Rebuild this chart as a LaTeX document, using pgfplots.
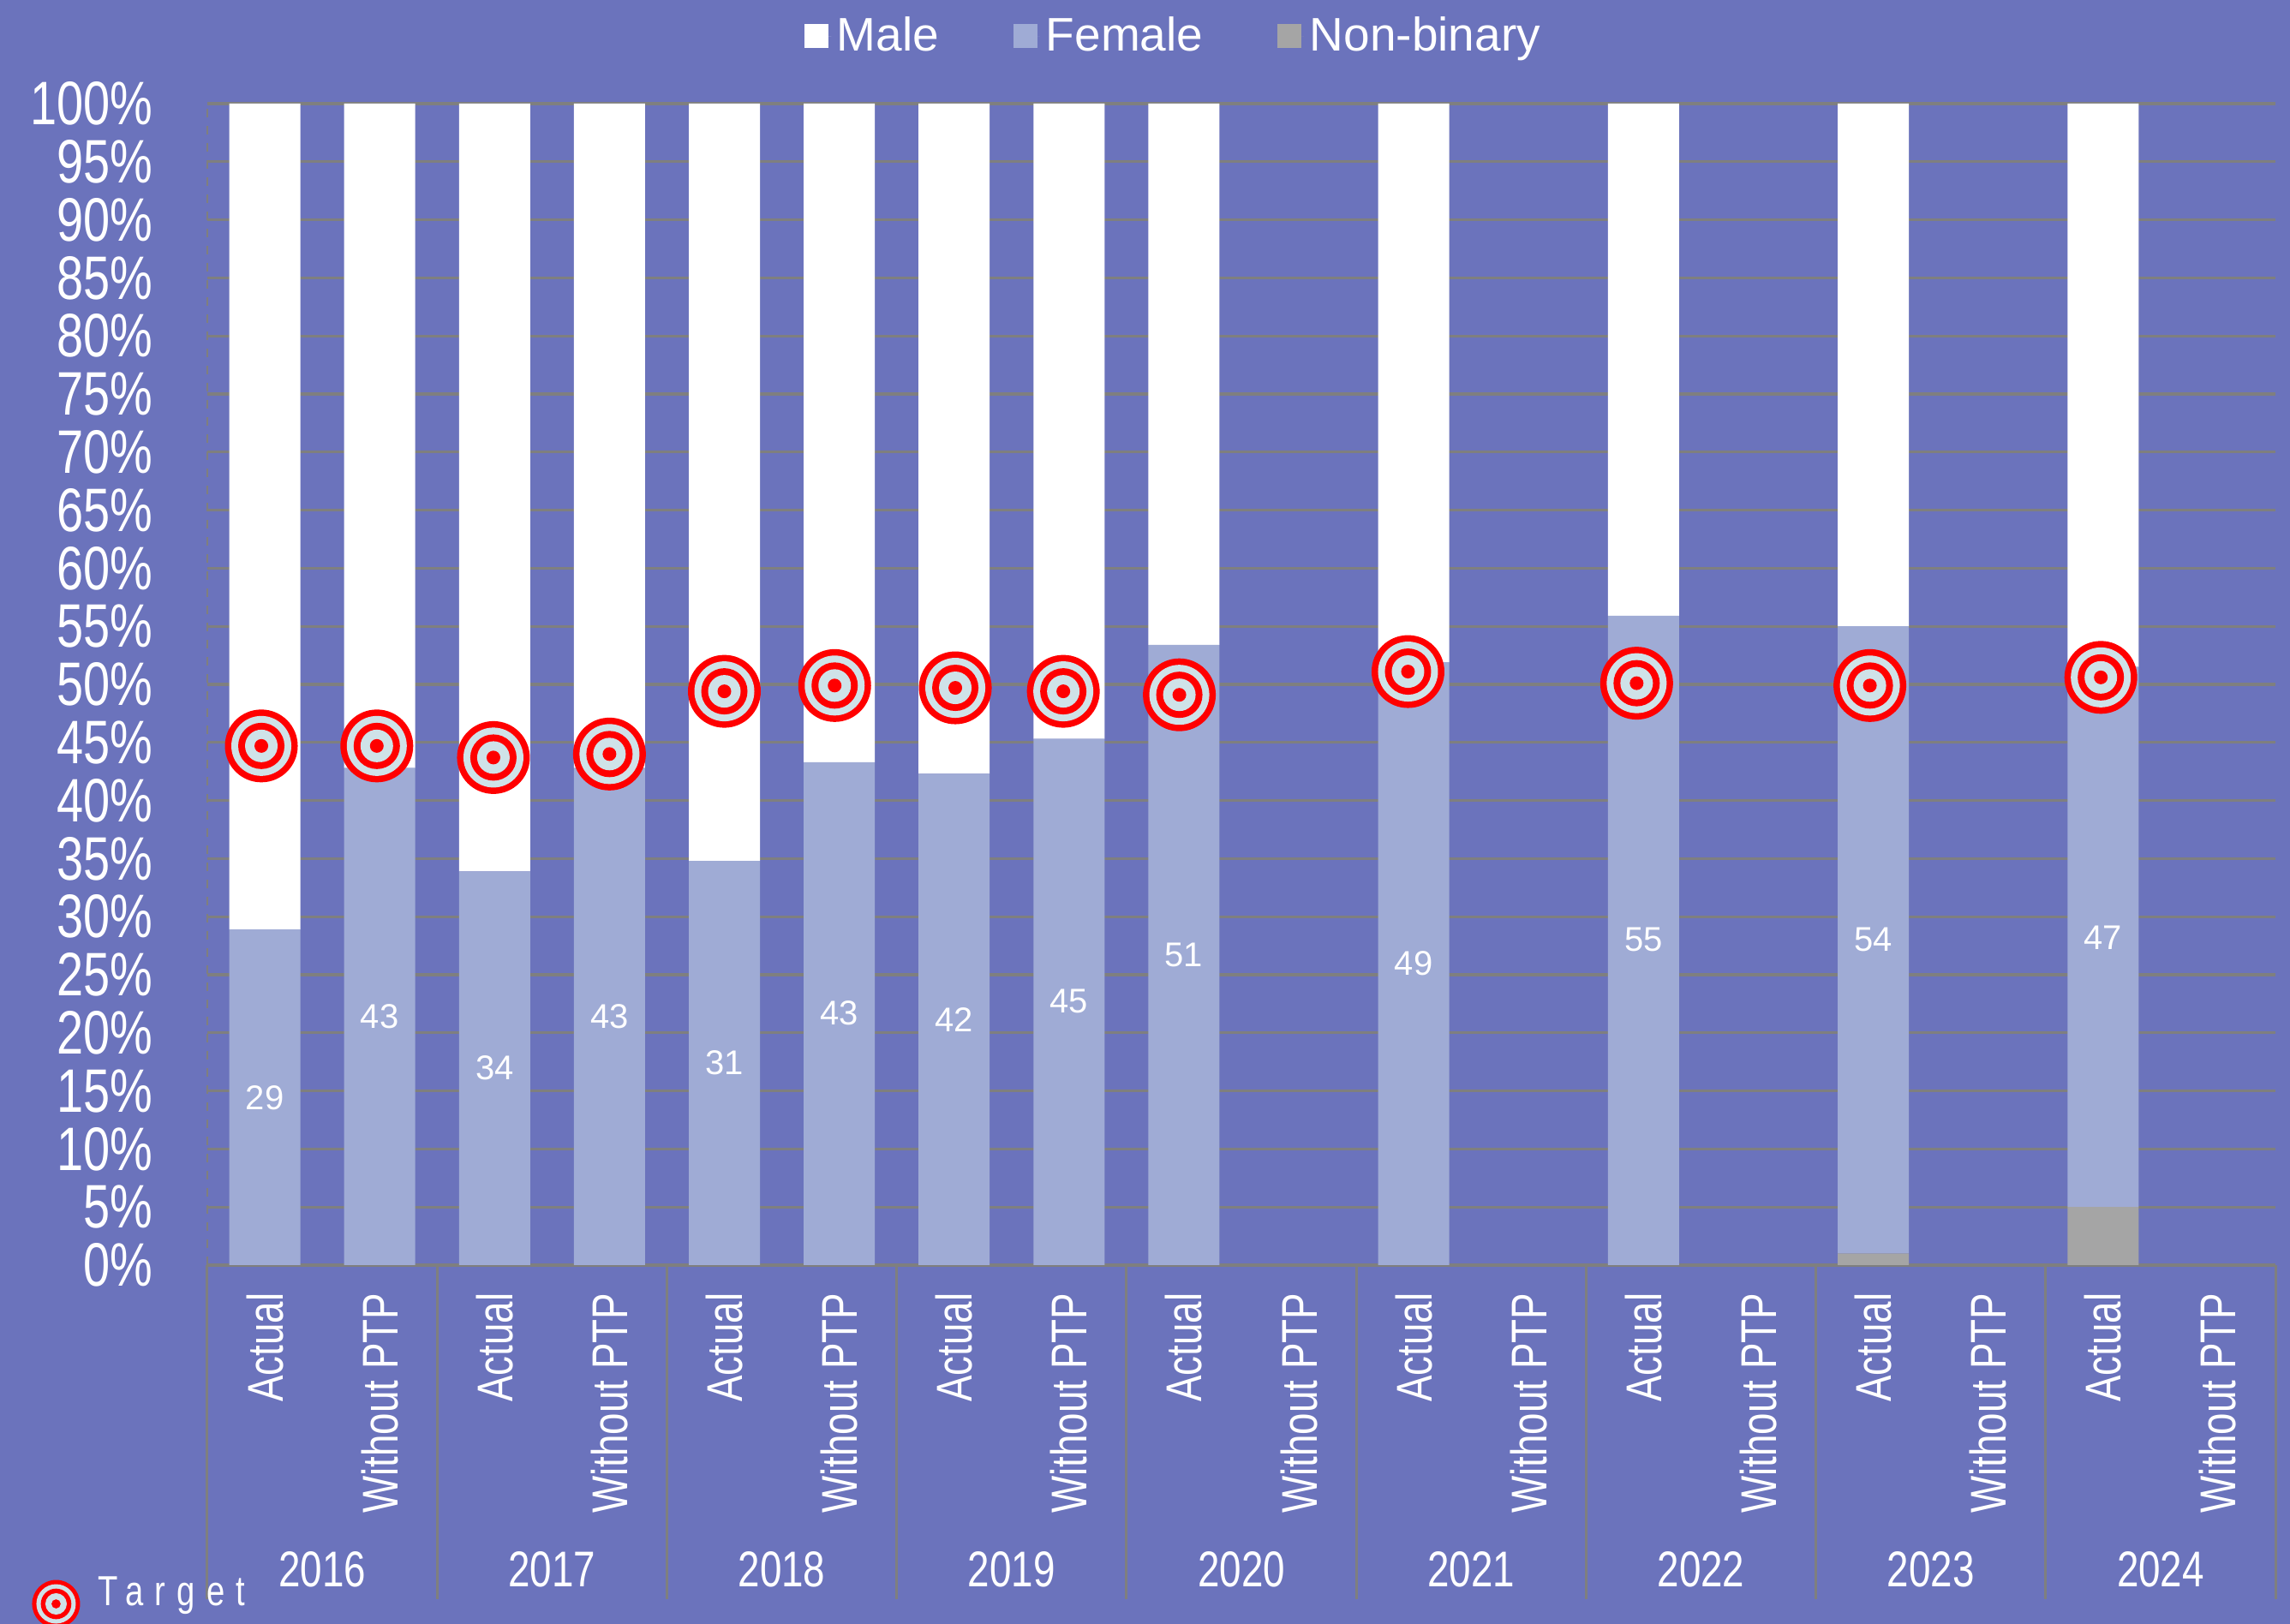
\documentclass[border=0pt]{standalone}
\usepackage{fontspec}
\usepackage{pgfplots}
\pgfplotsset{compat=1.18}
\setmainfont{Liberation Sans}
\newfontfamily\narrow[FakeStretch=0.78]{Liberation Sans}
\newfontfamily\tgt[FakeStretch=0.78,LetterSpace=27]{Liberation Sans}
\definecolor{bg}{HTML}{6B73BC}
\definecolor{fem}{HTML}{9FABD5}
\definecolor{nb}{HTML}{A5A5A5}
\definecolor{gl}{HTML}{7F7F7F}
\definecolor{tl}{HTML}{CFE2E8}
\pgfdeclareplotmark{target}{%
  \pgfsetlinewidth{0pt}%
  \pgfsetfillcolor{red}\pgfpathcircle{\pgfpointorigin}{12.75pt}\pgfusepath{fill}%
  \pgfsetfillcolor{tl}\pgfpathcircle{\pgfpointorigin}{10.5pt}\pgfusepath{fill}%
  \pgfsetfillcolor{red}\pgfpathcircle{\pgfpointorigin}{8.1pt}\pgfusepath{fill}%
  \pgfsetfillcolor{tl}\pgfpathcircle{\pgfpointorigin}{5.7pt}\pgfusepath{fill}%
  \pgfsetfillcolor{red}\pgfpathcircle{\pgfpointorigin}{2.4pt}\pgfusepath{fill}%
}
\begin{document}
\begin{tikzpicture}[x=1pt,y=1pt]
\fill[bg] (0,0) rectangle (801.9,568.8);
\useasboundingbox (0,0) rectangle (801.9,568.8);
\begin{axis}[
  at={(72.6pt,125.7pt)}, anchor=south west,
  scale only axis, width=724.2pt, height=406.8pt,
  xmin=-0.5, xmax=17.5, ymin=0, ymax=100,
  ybar stacked, bar width=24.9pt,
  axis lines=left, axis line style={-},
  x axis line style={gl,line width=1.1pt},
  y axis line style={gl,line width=0.5pt,dashed},
  ymajorgrids, grid style={gl,line width=1pt},
  ytick={0,5,...,100},
  yticklabels={0\%,5\%,10\%,15\%,20\%,25\%,30\%,35\%,40\%,45\%,50\%,55\%,60\%,65\%,70\%,75\%,80\%,85\%,90\%,95\%,100\%},
  yticklabel style={font=\narrow\fontsize{21.5}{21.5}\selectfont,white,anchor=east,xshift=-15.5pt},
  ytick style={draw=none},
  xtick={0,...,17},
  xticklabels={Actual,Without PTP,Actual,Without PTP,Actual,Without PTP,Actual,Without PTP,Actual,Without PTP,Actual,Without PTP,Actual,Without PTP,Actual,Without PTP,Actual,Without PTP},
  xticklabel style={font=\narrow\fontsize{17.6}{17.6}\selectfont,white,rotate=90,anchor=east,xshift=-6.3pt},
  xtick style={gl,line width=0.9pt},
  major tick length=0pt, tick align=outside,
  extra x ticks={-0.5,1.5,3.5,5.5,7.5,9.5,11.5,13.5,15.5,17.5},
  extra x tick labels={},
  extra x tick style={major tick length=117pt},
  legend columns=3,
  legend style={draw=none,fill=none,at={(0.468,1.058)},anchor=center,
    font=\fontsize{16.5}{16.5}\selectfont\color{white},
    /tikz/every even column/.append style={column sep=24pt}},
  legend image code/.code={\fill[#1,draw=none] (0,-4.2pt) rectangle (8.4pt,4.2pt); \path[draw=none] (0,0) -- (9.4pt,0);},
]
\addlegendimage{fill=white}\addlegendentry{Male}
\addlegendimage{fill=fem}\addlegendentry{Female}
\addlegendimage{fill=nb}\addlegendentry{Non-binary}
\addplot[forget plot,fill=nb,draw=none] coordinates {(0,0)(1,0)(2,0)(3,0)(4,0)(5,0)(6,0)(7,0)(8,0)(9,0)(10,0)(11,0)(12,0)(13,0)(14,1)(15,0)(16,5)(17,0)};
\addplot[forget plot,fill=fem,draw=none] coordinates {(0,28.9)(1,42.8)(2,33.9)(3,42.8)(4,34.8)(5,43.3)(6,42.3)(7,45.3)(8,53.4)(9,0)(10,51.9)(11,0)(12,55.9)(13,0)(14,54)(15,0)(16,46.5)(17,0)};
\addplot[forget plot,fill=white,draw=none] coordinates {(0,71.1)(1,57.2)(2,66.1)(3,57.2)(4,65.2)(5,56.7)(6,57.7)(7,54.7)(8,46.6)(9,0)(10,48.1)(11,0)(12,44.1)(13,0)(14,45)(15,0)(16,48.5)(17,0)};
\end{axis}
\begin{axis}[
  at={(72.6pt,125.7pt)}, anchor=south west,
  scale only axis, width=724.2pt, height=406.8pt,
  xmin=-0.5, xmax=17.5, ymin=0, ymax=100,
  axis lines=left, axis line style={draw=none},
  ytick=\empty,
  xtick={0.5,2.5,4.5,6.5,8.5,10.5,12.5,14.5,16.5},
  xticklabels={2016,2017,2018,2019,2020,2021,2022,2023,2024},
  xticklabel style={font=\narrow\fontsize{17.6}{17.6}\selectfont,white,anchor=center,yshift=-104.5pt},
  major x tick style={draw=none},
  legend style={draw=none,fill=none,at={(-0.085,-0.288)},anchor=west,inner sep=0pt,
    font=\tgt\fontsize{14.7}{14.7}\selectfont\color{white}},
  legend image code/.code={%
    \fill[red,draw=none] (8.4pt,-3.6pt) circle (8.4pt);
    \fill[tl,draw=none] (8.4pt,-3.6pt) circle (6.9pt);
    \fill[red,draw=none] (8.4pt,-3.6pt) circle (5.35pt);
    \fill[tl,draw=none] (8.4pt,-3.6pt) circle (3.75pt);
    \fill[red,draw=none] (8.4pt,-3.6pt) circle (1.6pt);
    \path[draw=none] (0,0) -- (21pt,0);},
]
\addplot[only marks,mark=none,nodes near coords,point meta=explicit symbolic,forget plot,
  every node near coord/.append style={anchor=center,white,font=\fontsize{12}{12}\selectfont}]
  table[meta=label] {
x y label
0 14.4 29
1 21.4 43
2 17 34
3 21.4 43
4 17.4 31
5 21.7 43
6 21.1 42
7 22.7 45
8 26.7 51
10 26 49
12 28 55
14 28 54
16 28.2 47
};
\addplot[only marks,mark=target] coordinates {
(-0.03,44.7)(0.975,44.7)(1.99,43.7)(3.0,44)(4.0,49.4)(4.96,49.9)(6.01,49.7)(6.95,49.4)(7.96,49.1)(9.95,51.1)(11.94,50.1)(13.97,49.9)(15.98,50.6)};
\addlegendentry{Target}
\end{axis}
\end{tikzpicture}
\end{document}
